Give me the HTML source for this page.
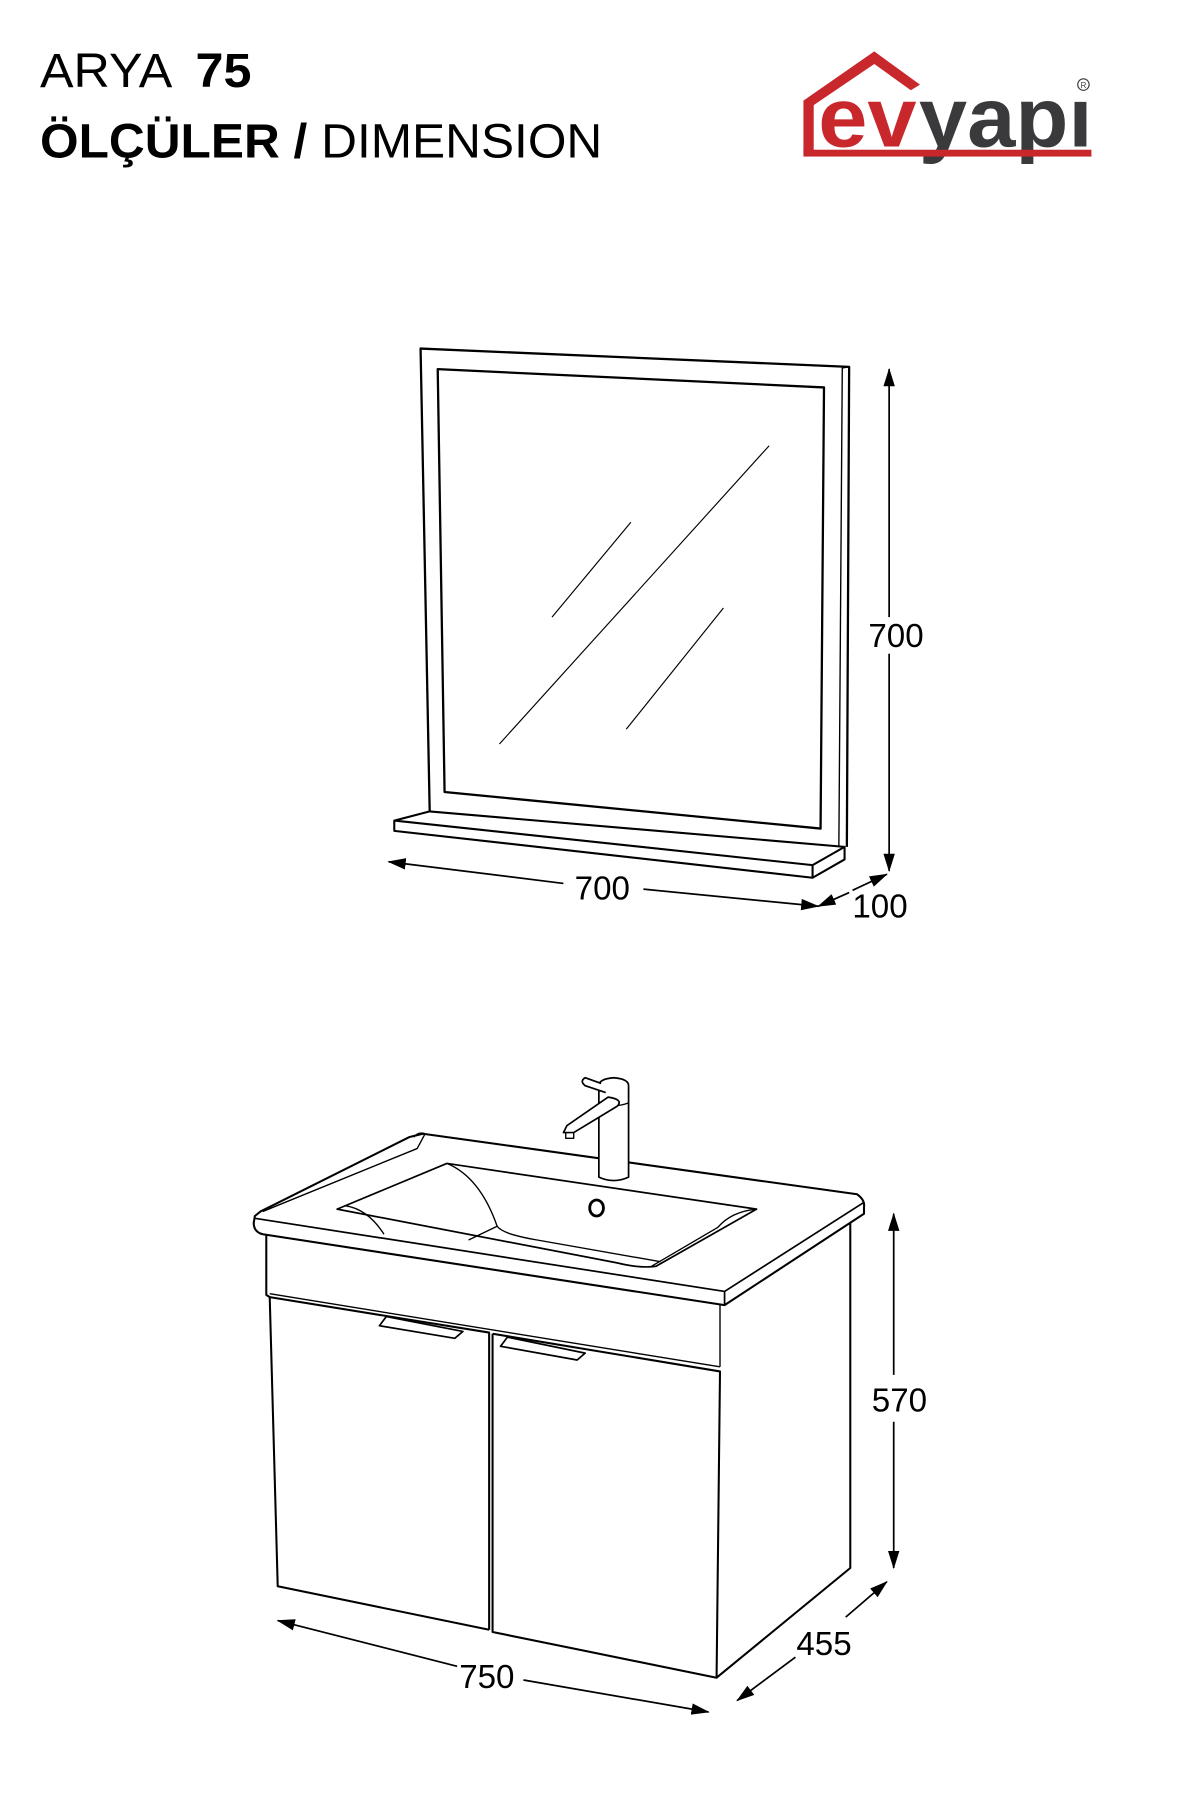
<!DOCTYPE html>
<html><head><meta charset="utf-8"><style>
html,body{margin:0;padding:0;background:#fff}
svg{display:block}
text{font-family:"Liberation Sans",sans-serif}
</style></head><body>
<svg width="1200" height="1800" viewBox="0 0 1050 1575" xmlns="http://www.w3.org/2000/svg">
<defs>
<marker id="a" markerWidth="16" markerHeight="10" refX="15" refY="5" orient="auto" markerUnits="userSpaceOnUse" viewBox="0 0 16 10"><path d="M0,0 L16,5 L0,10 z" fill="#000"/></marker>
</defs>
<rect width="1050" height="1575" fill="#fff"/>
<!-- header -->
<text x="35" y="76" font-size="42" textLength="185" lengthAdjust="spacingAndGlyphs">ARYA <tspan font-weight="bold" dx="10">75</tspan></text>
<text x="35" y="138" font-size="42" textLength="492" lengthAdjust="spacingAndGlyphs"><tspan font-weight="bold">ÖLÇÜLER /</tspan> DIMENSION</text>
<!-- logo -->
<path d="M703,135 L703,88 L765,45 L805,74 L797,79 L765,56 L712,92 L712,135 Z" fill="#c8282c"/>
<text x="716" y="128" font-size="74" font-weight="bold" fill="#c8282c" textLength="86" lengthAdjust="spacingAndGlyphs">ev</text>
<text x="804" y="128" font-size="74" font-weight="bold" fill="#3a3a3c" textLength="152" lengthAdjust="spacingAndGlyphs">yapı</text>
<rect x="703" y="131" width="252" height="6" fill="#c8282c"/>
<circle cx="948" cy="74" r="5" fill="none" stroke="#3a3a3c" stroke-width="1"/>
<text x="945.5" y="77" font-size="7" fill="#3a3a3c">R</text>

<g fill="none" stroke="#000" stroke-linejoin="round">
<!-- mirror -->
<path d="M376,711 L368,305 L743,321 L741,741" stroke-width="2"/>
<path d="M743,321 L737,322 L734,740" stroke-width="1.2"/>
<path d="M383,323 L721,339 L718,725 L389,693 Z" stroke-width="2"/>
<path d="M345,718 L376,710 L739,741 L711,757 Z" stroke-width="1.8" fill="#fff"/>
<path d="M345,718 L345,727 L711,768 L711,757 M711,768 L739,752 L739,741" stroke-width="1.8"/>
<path d="M437,651 L673,390 M483,540 L552,457 M548,638 L633,532" stroke-width="1"/>
<!-- mirror dims -->
<line x1="778" y1="540" x2="778" y2="323" stroke-width="1.5" marker-end="url(#a)"/>
<line x1="778" y1="572" x2="778" y2="762" stroke-width="1.5" marker-end="url(#a)"/>
<line x1="493" y1="773" x2="340" y2="754" stroke-width="1.5" marker-end="url(#a)"/>
<line x1="563" y1="778" x2="716" y2="793" stroke-width="1.5" marker-end="url(#a)"/>
<line x1="743" y1="781" x2="716" y2="793" stroke-width="1.5" marker-end="url(#a)"/>
<line x1="746" y1="779" x2="776" y2="765" stroke-width="1.5" marker-end="url(#a)"/>

<!-- vanity cabinet -->
<path d="M233,1080 L233,1133 L236,1135 L243,1388 L428,1426" stroke-width="1.8"/>
<path d="M236,1135 L428,1166 L428,1426 M431,1167 L630,1200 L627,1468 L431,1428 L431,1167" stroke-width="1.8"/>
<path d="M236,1132 L630,1196 M630,1142 L630,1196" stroke-width="1.2"/>
<path d="M744,1068 L744,1372 L627,1468" stroke-width="1.8"/>
<!-- handles -->
<path d="M338,1152 L332,1160 L398,1171 L405,1165 Z" stroke-width="1.5" fill="#fff"/>
<path d="M444,1170 L438,1178 L505,1190 L512,1184 Z" stroke-width="1.5" fill="#fff"/>
<!-- basin -->
<path d="M228,1060 L358,995 L370,992 L750,1045 Q757,1050 756,1056 L756,1062 L634,1142 L230,1080 Q222,1078 222,1070 L223,1064 Z" stroke-width="1.8" fill="#fff"/>
<path d="M223,1066 L634,1130 L756,1052 M634,1130 L634,1142" stroke-width="1.5"/>
<path d="M362,995 Q366,990 372,992 L365,1005 L230,1060" stroke-width="1.2"/>
<path d="M295,1058 L391,1018 L662,1058 L574,1108 Q560,1110 540,1105 L295,1058 Z" stroke-width="1.5"/>
<path d="M391,1018 Q420,1030 435,1073 Q440,1080 470,1085 L578,1104" stroke-width="1.2"/>
<path d="M302,1055 Q322,1058 336,1080 M435,1073 L410,1085 M662,1058 Q640,1060 628,1074 L570,1108" stroke-width="1.2"/>
<ellipse cx="522" cy="1057" rx="6" ry="7" stroke-width="2.5"/>
<!-- faucet -->
<path d="M524,1030 L524,950 Q524,944 537,943 Q550,944 550,950 L550,1030 Q537,1036 524,1030 Z" stroke-width="1.5" fill="#fff"/>
<path d="M524,965 Q537,970 550,965" stroke-width="1.2"/>
<path d="M540,968 L502,991 L493,991 L496,985 L532,960 Q546,962 540,968 Z" stroke-width="1.5" fill="#fff"/>
<path d="M495,991 L495,996 L502,996 L502,991" stroke-width="1.2"/>
<path d="M526,948 L512,943 Q507,946 512,950 L530,956" stroke-width="1.5" fill="#fff"/>
<!-- vanity dims -->
<line x1="782" y1="1203" x2="782" y2="1062" stroke-width="1.5" marker-end="url(#a)"/>
<line x1="782" y1="1244" x2="782" y2="1372" stroke-width="1.5" marker-end="url(#a)"/>
<line x1="400" y1="1458" x2="243" y2="1418" stroke-width="1.5" marker-end="url(#a)"/>
<line x1="458" y1="1470" x2="620" y2="1498" stroke-width="1.5" marker-end="url(#a)"/>
<line x1="696" y1="1450" x2="645" y2="1488" stroke-width="1.5" marker-end="url(#a)"/>
<line x1="740" y1="1415" x2="776" y2="1384" stroke-width="1.5" marker-end="url(#a)"/>
</g>
<g font-size="29" fill="#000">
<text x="784" y="566" text-anchor="middle">700</text>
<text x="527" y="787" text-anchor="middle">700</text>
<text x="770" y="803" text-anchor="middle">100</text>
<text x="787" y="1235" text-anchor="middle">570</text>
<text x="426" y="1477" text-anchor="middle">750</text>
<text x="721" y="1448" text-anchor="middle">455</text>
</g>
</svg>
</body></html>
